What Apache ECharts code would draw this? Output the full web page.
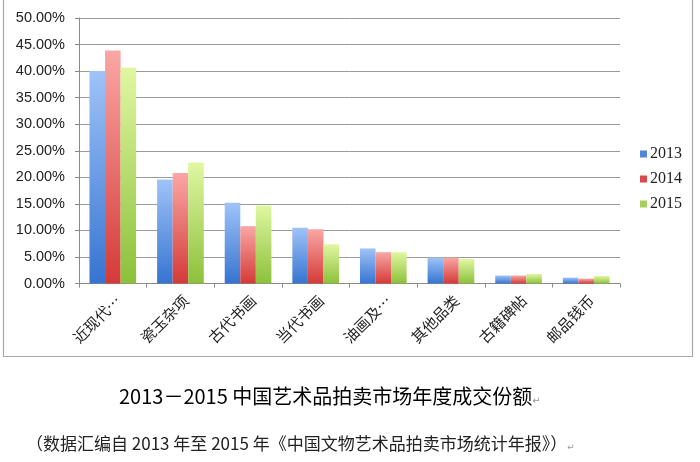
<!DOCTYPE html>
<html>
<head>
<meta charset="utf-8">
<script src="https://cdn.jsdelivr.net/npm/echarts@6/dist/echarts.min.js"></script>
<style>
html,body{margin:0;padding:0;background:#fff;}
#main{width:700px;height:462px;}
</style>
</head>
<body>
<div id="main"></div>
<script>
const categories = ['近现代…', '瓷玉杂项', '古代书画', '当代书画', '油画及…', '其他品类', '古籍碑帖', '邮品钱币'];
const seriesNames = ['2013', '2014', '2015'];
const values2013 = [40.0, 19.6, 15.2, 10.5, 6.6, 4.9, 1.5, 1.1];
const values2014 = [43.9, 20.8, 10.8, 10.2, 5.9, 4.9, 1.5, 0.9];
const values2015 = [40.7, 22.8, 14.7, 7.4, 5.9, 4.6, 1.8, 1.4];
const yTicks = [0, 5, 10, 15, 20, 25, 30, 35, 40, 45, 50];
const titleText = '2013－2015 中国艺术品拍卖市场年度成交份额';
const subtitleText = '（数据汇编自 2013 年至 2015 年《中国文物艺术品拍卖市场统计年报》）';

function grad(top, bottom) {
  return new echarts.graphic.LinearGradient(0, 0, 0, 1, [
    {offset: 0, color: top}, {offset: 1, color: bottom}
  ]);
}
const fills = [
  grad('#9fc3f8', '#3674d0'),
  grad('#f9a7a5', '#d43a37'),
  grad('#e0f7a2', '#8cc03a')
];
const legendColors = ['#4f86d6', '#d9494a', '#a6d05a'];
const allValues = [values2013, values2014, values2015];

const chart = echarts.init(document.getElementById('main'), null, {renderer: 'canvas'});
chart.setOption({
  animation: false,
  backgroundColor: '#fff',
  grid: {left: 79, right: 80, top: 18, bottom: 178.5, containLabel: false},
  legend: {
    orient: 'vertical',
    left: 635,
    top: 141,
    itemWidth: 7,
    itemHeight: 7,
    itemGap: 9,
    icon: 'rect',
    data: seriesNames.map((n, i) => ({name: n, itemStyle: {color: legendColors[i]}})),
    textStyle: {fontFamily: 'Liberation Serif', fontSize: 16, color: '#222', padding: [0, 0, 0, -2]}
  },
  title: [
    {
      text: titleText + '{m|↵}',
      left: 114, top: 381,
      textStyle: {
        fontFamily: '"Noto Sans CJK SC"', fontSize: 20, fontWeight: 'normal', color: '#000',
        rich: {m: {fontSize: 10, color: '#999', fontFamily: 'DejaVu Sans', verticalAlign: 'bottom'}}
      }
    },
    {
      text: subtitleText + '{m|↵}',
      left: 21, top: 430,
      textStyle: {
        fontFamily: '"Noto Sans CJK SC"', fontSize: 17, fontWeight: 'normal', color: '#222',
        rich: {m: {fontSize: 9, color: '#999', fontFamily: 'DejaVu Sans', verticalAlign: 'bottom'}}
      }
    }
  ],
  graphic: [{
    type: 'rect',
    shape: {x: 3.5, y: -5, width: 689, height: 361.5},
    style: {fill: 'none', stroke: '#a8a8a8', lineWidth: 1.2},
    silent: true
  }],
  xAxis: {
    type: 'category',
    data: categories,
    axisLine: {show: true, lineStyle: {color: '#8a8a8a', width: 1}},
    axisTick: {show: true, length: 4, lineStyle: {color: '#8a8a8a'}},
    axisLabel: {
      rotate: 45, margin: 9, interval: 0, verticalAlign: 'top',
      fontFamily: '"Noto Sans CJK SC"', fontSize: 15, color: '#222'
    },
    splitLine: {show: false}
  },
  yAxis: {
    type: 'value',
    min: yTicks[0], max: yTicks[yTicks.length - 1], interval: 5,
    axisLine: {show: true, lineStyle: {color: '#8a8a8a', width: 1}},
    axisTick: {show: true, length: 4, lineStyle: {color: '#8a8a8a'}},
    axisLabel: {
      margin: 14, fontFamily: 'Liberation Sans', fontSize: 14.5, color: '#222',
      formatter: v => v.toFixed(2) + '%'
    },
    splitLine: {show: true, lineStyle: {color: '#9a9a9a', width: 1}}
  },
  series: seriesNames.map((n, i) => ({
    name: n,
    type: 'bar',
    data: allValues[i],
    barGap: '0%',
    barCategoryGap: '31%',
    itemStyle: {color: fills[i]}
  }))
});
</script>
</body>
</html>
